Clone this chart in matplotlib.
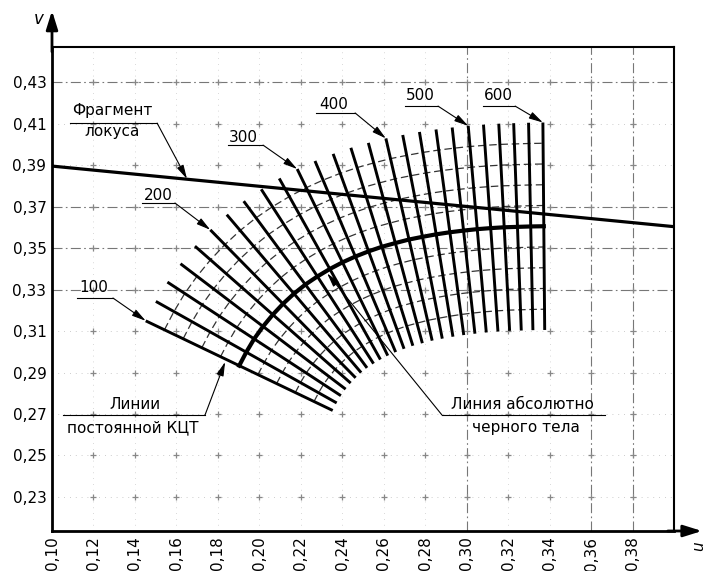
import numpy as np
import matplotlib
matplotlib.use('Agg')
import matplotlib.pyplot as plt

plt.rcParams['font.family'] = ['DejaVu Sans']

# Planckian locus points and constant-CCT lines, every 20 mired
mired = [100, 120, 140, 160, 180, 200, 220, 240, 260, 280, 300, 320, 340,
         360, 380, 400, 420, 440, 460, 480, 500, 520, 540, 560, 580, 600]
locus_u = [0.1903, 0.1937, 0.1975, 0.2018, 0.2065, 0.2114, 0.2167, 0.2222, 0.2280,
           0.2340, 0.2401, 0.2463, 0.2527, 0.2591, 0.2656, 0.2722, 0.2787, 0.2853,
           0.2919, 0.2985, 0.3051, 0.3116, 0.3181, 0.3245, 0.3309, 0.3372]
locus_v = [0.2933, 0.2998, 0.3062, 0.3122, 0.3179, 0.3231, 0.3280, 0.3324, 0.3363,
           0.3399, 0.3431, 0.3459, 0.3484, 0.3506, 0.3524, 0.3541, 0.3554, 0.3566,
           0.3576, 0.3584, 0.3591, 0.3596, 0.3600, 0.3602, 0.3604, 0.3605]
# tilt of each constant-CCT line against the u axis, degrees
iso_angle = [25.6, 29.3, 33.2, 37.2, 41.3, 45.5, 49.6, 53.5, 57.2, 60.8, 64.1, 67.1, 70.0,
             72.6, 74.9, 77.1, 79.0, 80.7, 82.3, 83.7, 85.0, 86.0, 87.0, 87.9, 88.8, 89.5]
iso_half = 0.05
duv_steps = [-0.04, -0.03, -0.02, -0.01, 0.01, 0.02, 0.03, 0.04]

# straight "fragment of locus" line
frag_u = [0.10, 0.40]
frag_v = [0.3895, 0.3603]

u_ticks = [0.10, 0.12, 0.14, 0.16, 0.18, 0.20, 0.22, 0.24, 0.26, 0.28, 0.30, 0.32, 0.34, 0.36, 0.38]
v_ticks = [0.23, 0.25, 0.27, 0.29, 0.31, 0.33, 0.35, 0.37, 0.39, 0.41, 0.43]
u_strong = [0.30, 0.36, 0.38]
v_strong = [0.33, 0.35, 0.37, 0.43]

lu = np.array(locus_u)
lv = np.array(locus_v)
ang = np.radians(iso_angle)
du = -np.cos(ang)
dv = np.sin(ang)

fig = plt.figure(figsize=(7.08, 5.71), dpi=100)
ax = fig.add_axes([52/708, 40/571, 622/708, 484/571])
ax.set_xlim(0.10, 0.40)
ax.set_ylim(0.2136, 0.4469)

# background grid
for u in u_ticks[1:]:
    if u in u_strong:
        ax.axvline(u, color='#777777', lw=0.8, ls=(0, (9, 3, 1.5, 3)), zorder=0)
    else:
        ax.axvline(u, color='#cccccc', lw=0.6, ls=(0, (1, 6)), zorder=0)
for v in v_ticks:
    if v in v_strong:
        ax.axhline(v, color='#777777', lw=0.8, ls=(0, (9, 3, 1.5, 3)), zorder=0)
    else:
        ax.axhline(v, color='#bbbbbb', lw=0.6, ls=(0, (1, 6)), zorder=0)
gu, gv = np.meshgrid(u_ticks[1:], v_ticks)
ax.plot(gu.ravel(), gv.ravel(), '+', color='#888888', ms=5, mew=0.9, zorder=1)

# constant-Duv dashed lines
for d in duv_steps:
    ax.plot(lu + d * du, lv + d * dv, color='#333333', lw=0.9, ls=(0, (6, 3)), zorder=2)

# constant-CCT lines
for i in range(len(mired)):
    ax.plot([lu[i] + iso_half * du[i], lu[i] - iso_half * du[i]],
            [lv[i] + iso_half * dv[i], lv[i] - iso_half * dv[i]],
            color='black', lw=2.1, solid_capstyle='butt', zorder=3)

# black-body line and locus fragment
ax.plot(lu, lv, color='black', lw=3.0, zorder=4)
ax.plot(frag_u, frag_v, color='black', lw=2.3, zorder=4)

arrow = dict(arrowstyle='-|>,head_length=0.7,head_width=0.18', color='black', lw=0.8,
             shrinkA=0, shrinkB=0, mutation_scale=12)
fs = 11

def leader(text_xy, texts, line_x, line_y, start, tip):
    for t, (tx, ty) in zip(texts, text_xy):
        ax.text(tx, ty, t, fontsize=fs, ha='center', va='center', zorder=6)
    ax.plot(line_x, [line_y, line_y], color='black', lw=0.8, zorder=6)
    ax.annotate('', xy=tip, xytext=(start, line_y), arrowprops=arrow, zorder=6)

# mired labels pointing at the upper ends of the CCT lines
mired_labels = [100, 200, 300, 400, 500, 600]
label_u = [0.1203, 0.1511, 0.1921, 0.2360, 0.2775, 0.3151]
label_v = [0.3312, 0.3751, 0.4035, 0.4194, 0.4233, 0.4233]
line_y = [0.3259, 0.3717, 0.3996, 0.4151, 0.4184, 0.4184]
line_x0 = [0.1121, 0.1434, 0.1849, 0.2274, 0.2703, 0.3077]
line_x1 = [0.1294, 0.1593, 0.2018, 0.2462, 0.2862, 0.3234]
for k, m in enumerate(mired_labels):
    i = mired.index(m)
    tip = (lu[i] + iso_half * du[i], lv[i] + iso_half * dv[i])
    leader([(label_u[k], label_v[k])], [str(m)], [line_x0[k], line_x1[k]],
           line_y[k], line_x1[k], tip)

leader([(0.1289, 0.4165), (0.1289, 0.4064)], ['Фрагмент', 'локуса'],
       [0.1087, 0.1507], 0.4102, 0.1507, (0.1651, 0.3833))
leader([(0.1400, 0.2748), (0.1391, 0.2633)], ['Линии', 'постоянной КЦТ'],
       [0.1053, 0.1738], 0.2695, 0.1738, (0.1835, 0.2951))
leader([(0.3267, 0.2748), (0.3287, 0.2633)], ['Линия абсолютно', 'черного тела'],
       [0.2881, 0.3668], 0.2695, 0.2881, (0.2327, 0.3378))

# axes frame
for side in ['left', 'bottom']:
    ax.spines[side].set_linewidth(2.0)
for side in ['top', 'right']:
    ax.spines[side].set_linewidth(1.5)
ax.set_xticks(u_ticks)
ax.set_xticklabels([f'{t:.2f}'.replace('.', ',') for t in u_ticks], rotation=90)
ax.set_yticks(v_ticks)
ax.set_yticklabels([f'{t:.2f}'.replace('.', ',') for t in v_ticks])
ax.tick_params(length=0, labelsize=fs, pad=4)

axis_arrow = dict(arrowstyle='-|>,head_length=0.8,head_width=0.25', color='black', lw=2.0,
                  shrinkA=0, shrinkB=0, mutation_scale=14)
ax.annotate('', xy=(0, 1.075), xytext=(0, 0.99), xycoords='axes fraction',
            textcoords='axes fraction', arrowprops=axis_arrow, annotation_clip=False)
ax.annotate('', xy=(1.045, 0), xytext=(0.99, 0), xycoords='axes fraction',
            textcoords='axes fraction', arrowprops=axis_arrow, annotation_clip=False)
ax.text(-0.022, 1.058, 'v', transform=ax.transAxes, fontsize=12, style='italic',
        ha='center', va='center')
ax.text(1.040, -0.032, 'u', transform=ax.transAxes, fontsize=11, style='italic',
        ha='center', va='center', rotation=90)

fig.savefig('out.png', dpi=100)
